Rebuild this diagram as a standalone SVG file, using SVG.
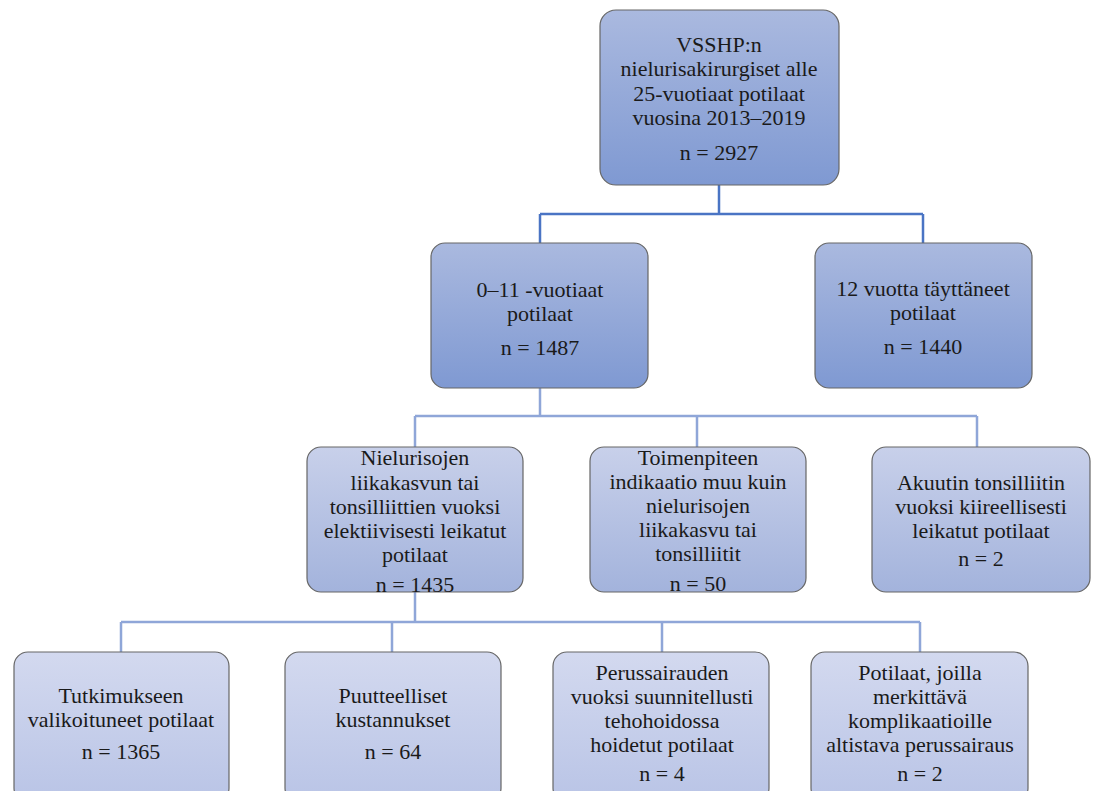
<svg xmlns="http://www.w3.org/2000/svg" width="1095" height="791" viewBox="0 0 1095 791">
<defs>
<linearGradient id="g1" x1="0" y1="0" x2="0" y2="1"><stop offset="0" stop-color="#aab9df"/><stop offset="1" stop-color="#7f99d2"/></linearGradient>
<linearGradient id="g3" x1="0" y1="0" x2="0" y2="1"><stop offset="0" stop-color="#c8d0ea"/><stop offset="1" stop-color="#a3b3dc"/></linearGradient>
<linearGradient id="g4" x1="0" y1="0" x2="0" y2="1"><stop offset="0" stop-color="#d3d9ef"/><stop offset="1" stop-color="#b9c4e6"/></linearGradient>
</defs>
<style>
.b{stroke:#666666;stroke-width:1.2}
.l1{fill:url(#g1)}
.l3{fill:url(#g3)}
.l4{fill:url(#g4)}
.t{font-family:'Liberation Serif','Times New Roman',serif;font-size:22px;fill:#1a1a1a;text-anchor:middle}
.c1{fill:none;stroke:#4a74c4;stroke-width:2.5}
.c2{fill:none;stroke:#8fa6d8;stroke-width:2.5}
</style>
<rect width="1095" height="791" fill="#ffffff"/>
<g id="connectors">
<path class="c1" d="M719 185V214M540 214H923M540 214V243M923 214V243"/>
<path class="c2" d="M540 388V416M415 416H977M415 416V447M697 416V447M977 416V447"/>
<path class="c2" d="M415 592V622M121 622H920M121 622V652M392 622V652M662 622V652M920 622V652"/>
</g>
<g id="n0"><rect class="b l1" x="600" y="10" width="239" height="175" rx="16"/>
<text class="t" x="719" y="52">VSSHP:n</text><text class="t" x="719" y="76">nielurisakirurgiset alle</text><text class="t" x="719" y="101">25-vuotiaat potilaat</text><text class="t" x="719" y="125">vuosina 2013–2019</text><text class="t" x="719" y="160">n = 2927</text></g>
<g id="n1"><rect class="b l1" x="431" y="243" width="217" height="145" rx="14"/>
<text class="t" x="540" y="297">0–11 -vuotiaat</text><text class="t" x="540" y="321">potilaat</text><text class="t" x="540" y="355">n = 1487</text></g>
<g id="n2"><rect class="b l1" x="815" y="243" width="217" height="145" rx="14"/>
<text class="t" x="923" y="296">12 vuotta täyttäneet</text><text class="t" x="923" y="320">potilaat</text><text class="t" x="923" y="354">n = 1440</text></g>
<g id="n3"><rect class="b l3" x="307" y="447" width="216" height="145" rx="14"/>
<text class="t" x="415" y="465">Nielurisojen</text><text class="t" x="415" y="490">liikakasvun tai</text><text class="t" x="415" y="514">tonsilliittien vuoksi</text><text class="t" x="415" y="538">elektiivisesti leikatut</text><text class="t" x="415" y="562">potilaat</text><text class="t" x="415" y="592">n = 1435</text></g>
<g id="n4"><rect class="b l3" x="590" y="447" width="216" height="145" rx="14"/>
<text class="t" x="698" y="465">Toimenpiteen</text><text class="t" x="698" y="489">indikaatio muu kuin</text><text class="t" x="698" y="513">nielurisojen</text><text class="t" x="698" y="537">liikakasvu tai</text><text class="t" x="698" y="561">tonsilliitit</text><text class="t" x="698" y="591">n = 50</text></g>
<g id="n5"><rect class="b l3" x="872" y="447" width="218" height="145" rx="14"/>
<text class="t" x="981" y="490">Akuutin tonsilliitin</text><text class="t" x="981" y="514">vuoksi kiireellisesti</text><text class="t" x="981" y="538">leikatut potilaat</text><text class="t" x="981" y="566">n = 2</text></g>
<g id="n6"><rect class="b l4" x="14" y="652" width="215" height="150" rx="14"/>
<text class="t" x="121" y="703">Tutkimukseen</text><text class="t" x="121" y="727">valikoituneet potilaat</text><text class="t" x="121" y="759">n = 1365</text></g>
<g id="n7"><rect class="b l4" x="285" y="652" width="216" height="150" rx="14"/>
<text class="t" x="393" y="703">Puutteelliset</text><text class="t" x="393" y="727">kustannukset</text><text class="t" x="393" y="759">n = 64</text></g>
<g id="n8"><rect class="b l4" x="553" y="652" width="216" height="150" rx="14"/>
<text class="t" x="662" y="680">Perussairauden</text><text class="t" x="662" y="704">vuoksi suunnitellusti</text><text class="t" x="662" y="728">tehohoidossa</text><text class="t" x="662" y="752">hoidetut potilaat</text><text class="t" x="662" y="781">n = 4</text></g>
<g id="n9"><rect class="b l4" x="811" y="652" width="217" height="150" rx="14"/>
<text class="t" x="920" y="680">Potilaat, joilla</text><text class="t" x="920" y="704">merkittävä</text><text class="t" x="920" y="728">komplikaatioille</text><text class="t" x="920" y="752">altistava perussairaus</text><text class="t" x="920" y="781">n = 2</text></g>
</svg>
